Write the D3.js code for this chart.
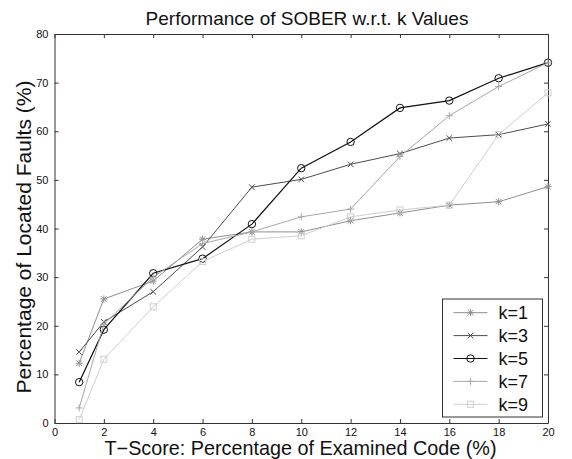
<!DOCTYPE html>
<html>
<head>
<meta charset="utf-8">
<script src="https://cdn.jsdelivr.net/npm/d3@7/dist/d3.min.js"></script>
<style>
body { margin: 0; background: #fff; }
text { font-family: "Liberation Sans", Arial, Helvetica, sans-serif; }
</style>
</head>
<body>
<script>
// data
var xValues = [1, 2, 4, 6, 8, 10, 12, 14, 16, 18, 20];
var k1 = [12.3, 25.5, 29.2, 37.8, 39.3, 39.3, 41.6, 43.2, 44.8, 45.5, 48.6];
var k3 = [14.6, 20.8, 27.0, 36.2, 48.5, 50.1, 53.2, 55.4, 58.6, 59.3, 61.5];
var k5 = [8.4, 19.2, 30.8, 33.8, 40.9, 52.4, 57.8, 64.8, 66.3, 70.9, 74.1];
var k7 = [3.1, 20.3, 30.0, 36.9, 39.3, 42.4, 44.0, 54.8, 63.2, 69.2, 74.1];
var k9 = [0.7, 13.1, 23.9, 33.2, 37.8, 38.5, 42.4, 43.8, 44.8, 59.3, 67.9];
var seriesNames = ['k=1', 'k=3', 'k=5', 'k=7', 'k=9'];
var xTicks = [0, 2, 4, 6, 8, 10, 12, 14, 16, 18, 20];
var yTicks = [0, 10, 20, 30, 40, 50, 60, 70, 80];

var width = 572;
var height = 459;
var margin = { top: 34, right: 24, bottom: 36, left: 54.5 };

var svg = d3.select('body').append('svg').attr('width', width).attr('height', height);

var x = d3.scaleLinear().domain([0, 20]).range([margin.left, width - margin.right]);
var y = d3.scaleLinear().domain([0, 80]).range([height - margin.bottom, margin.top]);

var series = [
    { name: seriesNames[0], values: k1, color: '#8f8f8f', marker: 'star' },
    { name: seriesNames[1], values: k3, color: '#4d4d4d', marker: 'x' },
    { name: seriesNames[2], values: k5, color: '#111', marker: 'circle' },
    { name: seriesNames[3], values: k7, color: '#a8a8a8', marker: 'plus' },
    { name: seriesNames[4], values: k9, color: '#cfcfcf', marker: 'square' }
];

// frame with inward ticks on all sides
var axisColor = '#333';
var gx = svg.append('g').attr('transform', 'translate(0,' + y(0) + ')')
    .call(d3.axisBottom(x).tickValues(xTicks).tickSizeInner(-4).tickSizeOuter(0).tickPadding(5));
var gxt = svg.append('g').attr('transform', 'translate(0,' + y(80) + ')')
    .call(d3.axisTop(x).tickValues(xTicks).tickSizeInner(-4).tickSizeOuter(0).tickFormat(''));
var gy = svg.append('g').attr('transform', 'translate(' + x(0) + ',0)')
    .call(d3.axisLeft(y).tickValues(yTicks).tickSizeInner(-4).tickSizeOuter(0).tickPadding(6));
var gyr = svg.append('g').attr('transform', 'translate(' + x(20) + ',0)')
    .call(d3.axisRight(y).tickValues(yTicks).tickSizeInner(-4).tickSizeOuter(0).tickFormat(''));

[gx, gxt, gy, gyr].forEach(function (g) {
    g.selectAll('path, line').attr('stroke', axisColor);
    g.selectAll('text').attr('fill', '#111').style('font-size', '11px')
        .style('font-family', '"Liberation Sans", Arial, sans-serif');
});

function drawMarker(g, type, color) {
    var s = 3.5;
    if (type === 'circle') {
        g.append('circle').attr('r', 3.7).attr('fill', 'none').attr('stroke', color).attr('stroke-width', 1);
    } else if (type === 'square') {
        g.append('rect').attr('x', -3).attr('y', -3).attr('width', 6).attr('height', 6)
            .attr('fill', 'none').attr('stroke', color).attr('stroke-width', 1);
    } else {
        var p = '';
        if (type === 'plus' || type === 'star') p += 'M' + (-s) + ',0H' + s + 'M0,' + (-s) + 'V' + s;
        if (type === 'x' || type === 'star') p += 'M' + (-s * 0.8) + ',' + (-s * 0.8) + 'L' + (s * 0.8) + ',' + (s * 0.8) +
            'M' + (-s * 0.8) + ',' + (s * 0.8) + 'L' + (s * 0.8) + ',' + (-s * 0.8);
        g.append('path').attr('d', p).attr('fill', 'none').attr('stroke', color).attr('stroke-width', 1);
    }
}

var line = d3.line()
    .x(function (d, i) { return x(xValues[i]); })
    .y(function (d) { return y(d); });

series.forEach(function (s) {
    svg.append('path').datum(s.values)
        .attr('d', line)
        .attr('fill', 'none')
        .attr('stroke', s.color)
        .attr('stroke-width', s.marker === 'circle' ? 1.2 : 1);
    s.values.forEach(function (v, i) {
        var g = svg.append('g').attr('transform', 'translate(' + x(xValues[i]) + ',' + y(v) + ')');
        drawMarker(g, s.marker, s.color);
    });
});

// legend
var lg = svg.append('g').attr('transform', 'translate(442.5,299)');
lg.append('rect').attr('width', 100).attr('height', 118).attr('fill', '#fff').attr('stroke', axisColor);
series.forEach(function (s, i) {
    var yy = 13.7 + i * 22.9;
    lg.append('line').attr('x1', 11).attr('x2', 45).attr('y1', yy).attr('y2', yy)
        .attr('stroke', s.color).attr('stroke-width', 1);
    var m = lg.append('g').attr('transform', 'translate(28,' + yy + ')');
    drawMarker(m, s.marker, s.color);
    lg.append('text').attr('x', 56).attr('y', yy + 6.5).text(s.name)
        .style('font-size', '18px').attr('fill', '#111');
});

// titles
svg.append('text').attr('x', 307).attr('y', 25).attr('text-anchor', 'middle')
    .style('font-size', '19px').attr('fill', '#111')
    .text('Performance of SOBER w.r.t. k Values');
svg.append('text').attr('x', 300.5).attr('y', 455).attr('text-anchor', 'middle')
    .style('font-size', '19.8px').attr('fill', '#111')
    .text('T\u2212Score: Percentage of Examined Code (%)');
svg.append('text').attr('transform', 'translate(31,237) rotate(-90)').attr('text-anchor', 'middle')
    .style('font-size', '21px').attr('fill', '#111')
    .text('Percentage of Located Faults (%)');
</script>
</body>
</html>
